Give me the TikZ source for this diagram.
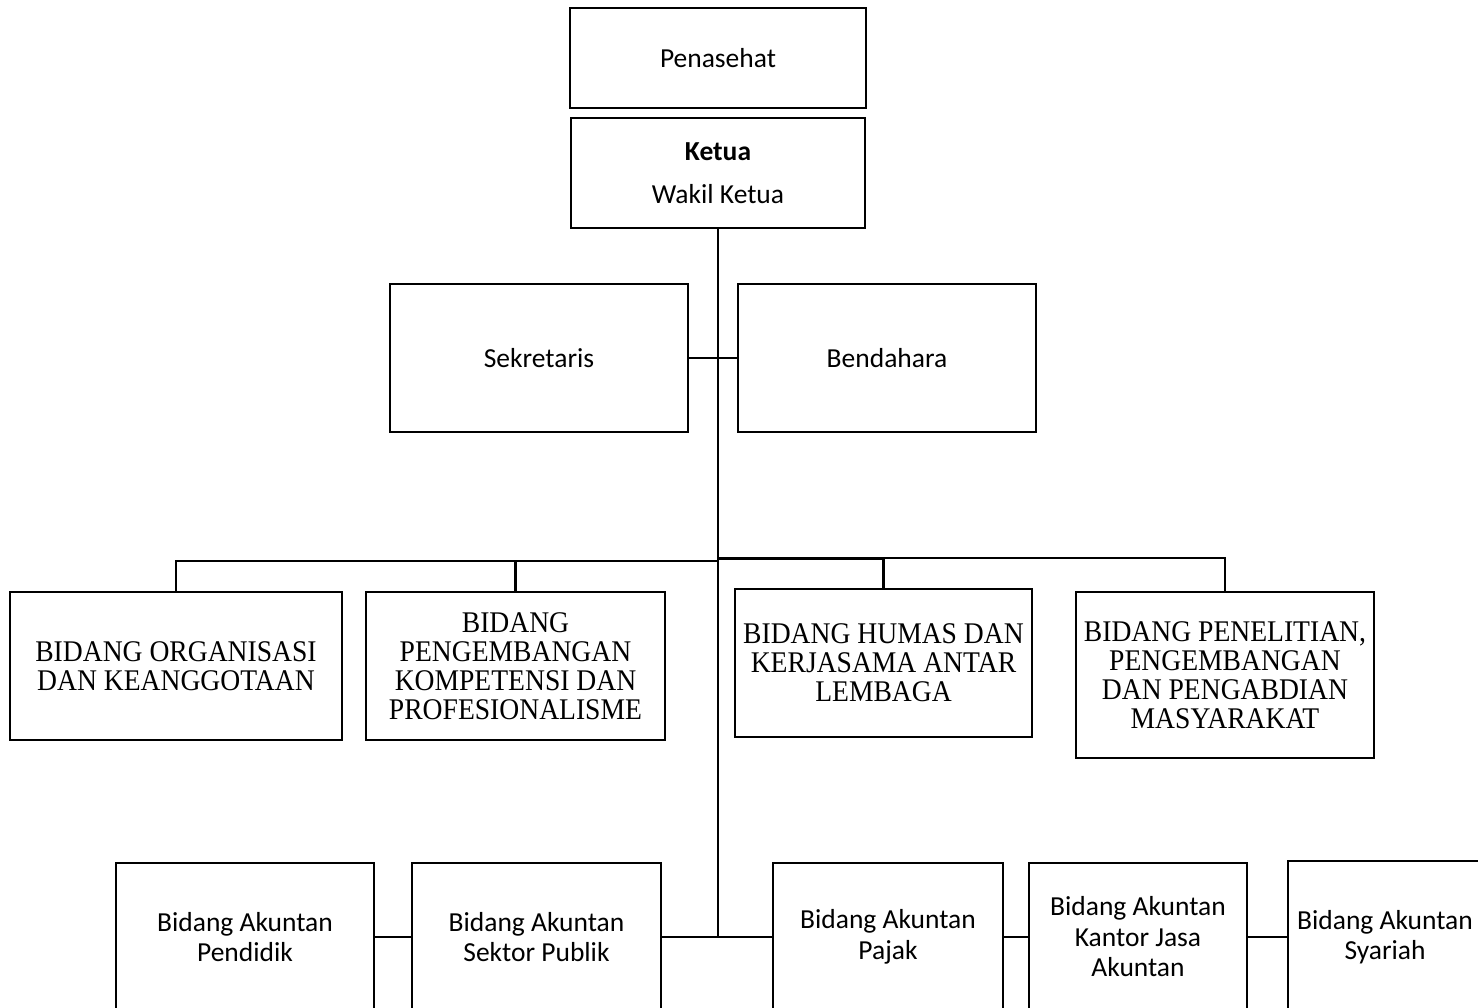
\documentclass[tikz,border=0pt]{standalone}
\usepackage{fontspec}
\setmainfont{Liberation Serif}
\newfontfamily\calibfont{Carlito}
\newfontfamily\tnrfont[FakeStretch=0.92]{Liberation Serif}
\begin{document}
\begin{tikzpicture}[x=1pt,y=-1pt,
  box/.style={draw, line width=2.1pt, inner sep=0pt, align=center},
  cb/.style={box, font=\calibfont\fontsize{27.5}{30.5}\selectfont},
  tb/.style={box, font=\tnrfont\fontsize{30}{29}\selectfont},
  link/.style={line width=2.1pt},
  thicklink/.style={line width=3pt}]
\useasboundingbox (0,0) rectangle (1478,1008);
\clip (0,0) rectangle (1478,1008);
% top
\node[cb, minimum width=296, minimum height=100] (pen) at (718,58) {Penasehat};
\node[cb, minimum width=294, minimum height=110] (ket) at (718,173) {\textbf{Ketua}\\[12pt]Wakil Ketua};
\node[cb, minimum width=298, minimum height=148] (sekr) at (539,358) {Sekretaris};
\node[cb, minimum width=298, minimum height=148] (bend) at (887,358) {Bendahara};
% middle
\node[tb, minimum width=332, minimum height=148] (org) at (176,666) {BIDANG ORGANISASI\\DAN KEANGGOTAAN};
\node[tb, minimum width=299, minimum height=148] (peng) at (515.5,666) {BIDANG\\PENGEMBANGAN\\KOMPETENSI DAN\\PROFESIONALISME};
\node[tb, minimum width=297, minimum height=148] (hum) at (883.5,663) {BIDANG HUMAS DAN\\KERJASAMA ANTAR\\LEMBAGA};
\node[tb, minimum width=298, minimum height=166] (pnl) at (1225,675) {BIDANG PENELITIAN,\\PENGEMBANGAN\\DAN PENGABDIAN\\MASYARAKAT};
% bottom
\node[cb, minimum width=258, minimum height=148] (pend) at (245,937) {Bidang Akuntan\\Pendidik};
\node[cb, minimum width=249, minimum height=148] (sek) at (536.5,937) {Bidang Akuntan\\Sektor Publik};
\node[cb, minimum width=230, minimum height=148] (paj) at (888,937) {Bidang Akuntan\\Pajak};
\node[cb, minimum width=218, minimum height=148] (kan) at (1138,937) {Bidang Akuntan\\Kantor Jasa\\Akuntan};
\node[cb, minimum width=194, minimum height=152] (sya) at (1385,937) {Bidang Akuntan\\Syariah};
% connectors
\coordinate (barL) at (718,561);
\coordinate (barR) at (718,558);
\draw[link] (ket.south) -- (ket.south |- paj.west);
\draw[link] (sekr.east) -- (bend.west);
\draw[link] (org.north) |- (barL);
\draw[link] (peng.north) |- (barL);
\draw[thicklink] (barR) -- (hum.north |- barR);
\draw[link] (hum.north) -- (hum.north |- barR);
\draw[link] (pnl.north) |- (barR);
\draw[link] (pend.east) -- (sek.west);
\draw[link] (sek.east) -- (paj.west);
\draw[link] (paj.east) -- (kan.west);
\draw[link] (kan.east) -- (sya.west);
\end{tikzpicture}
\end{document}
